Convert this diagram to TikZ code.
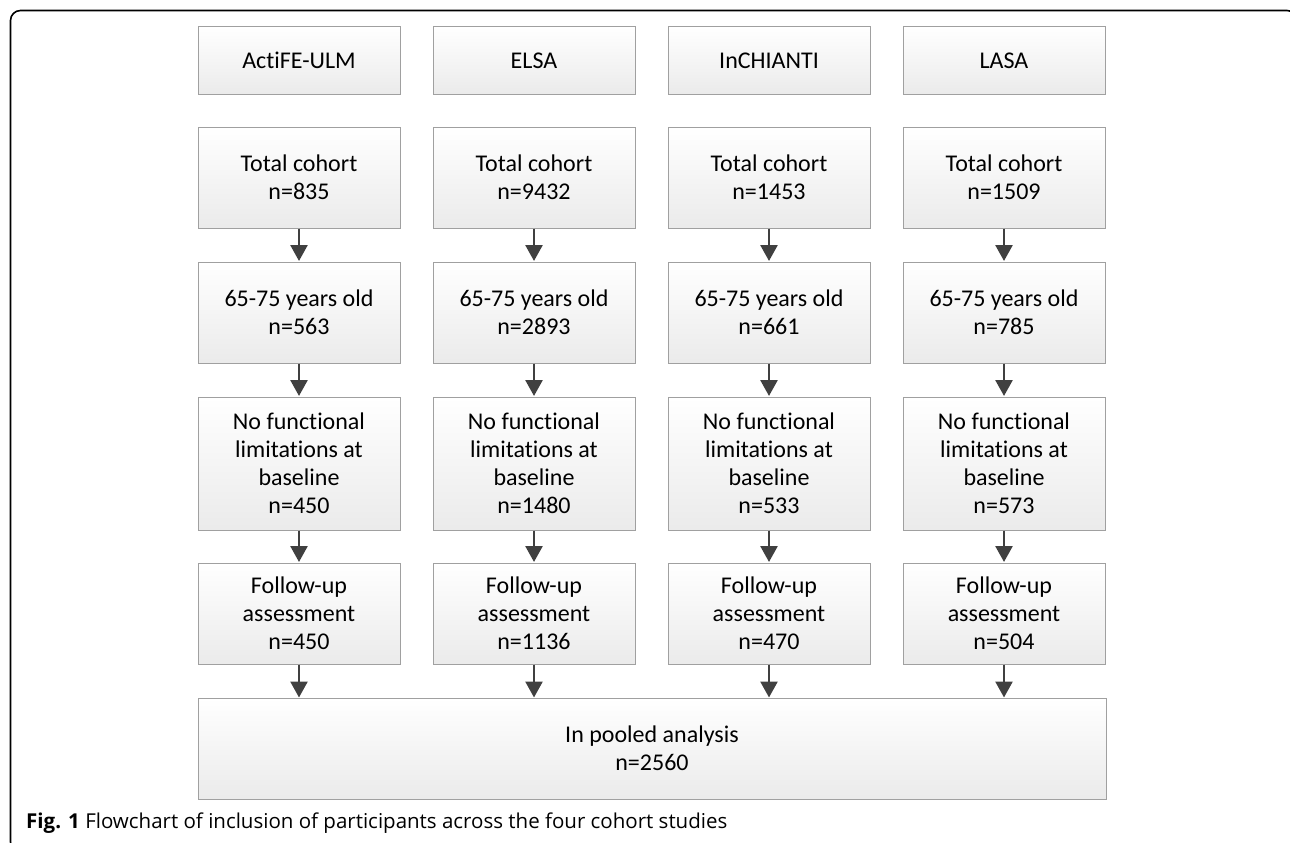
\documentclass[tikz,border=0pt]{standalone}
\usepackage{fontspec}
\setmainfont{Carlito}[Ligatures={NoCommon}]
\newfontfamily\capfont{Open Sans}
\usetikzlibrary{arrows.meta}
\definecolor{arrowgray}{HTML}{404040}
\definecolor{boxline}{HTML}{A0A0A0}
\tikzset{
  stepbox/.style={draw=boxline, line width=1pt, top color=white, bottom color=black!8,
    minimum width=202pt, align=center, font=\fontsize{24}{28}\selectfont, inner sep=0pt},
  flowarrow/.style={draw=arrowgray, line width=2.6pt, -{Triangle[length=16pt,width=17pt]}, shorten >=0.5pt},
}
\begin{document}
\begin{tikzpicture}[x=1pt,y=-1pt]
\useasboundingbox (0,0) rectangle (1290,843);
\begin{scope}
\clip (0,0) rectangle (1290,843);
\draw[line width=1.6pt, rounded corners=10pt] (1297,30) -- (1297,10.5) -- (10.5,10.5) -- (10.5,852) -- (30,852);
\end{scope}
\foreach \c/\x/\name/\a/\b/\d/\e in {
  1/299/ActiFE-ULM/835/563/450/450,
  2/534/ELSA/9432/2893/1480/1136,
  3/769/InCHIANTI/1453/661/533/470,
  4/1004/LASA/1509/785/573/504}{
  \node[stepbox, minimum height=67pt] (h\c) at (\x,60.5) {\name};
  \node[stepbox, minimum height=101pt] (t\c) at (\x,177.5) {Total cohort\\n=\a};
  \node[stepbox, minimum height=101pt] (y\c) at (\x,312.5) {65-75 years old\\n=\b};
  \node[stepbox, minimum height=133pt] (f\c) at (\x,463.5) {No functional\\limitations at\\baseline\\n=\d};
  \node[stepbox, minimum height=101pt] (u\c) at (\x,613.5) {Follow-up\\assessment\\n=\e};
  \coordinate (p\c) at (\x,698);
}
\node[stepbox, minimum width=908pt, minimum height=101pt] (pool) at (652,748.5) {In pooled analysis\\n=2560};
\foreach \c in {1,2,3,4}{
  \draw[flowarrow] (t\c.south) -- (y\c.north);
  \draw[flowarrow] (y\c.south) -- (f\c.north);
  \draw[flowarrow] (f\c.south) -- (u\c.north);
  \draw[flowarrow] (u\c.south) -- (p\c);
}
\node[anchor=base west, inner sep=0pt, font=\capfont\fontsize{20.5}{24}\selectfont] (cap) at (26,828) {\textbf{Fig. 1} Flowchart of inclusion of participants across the four cohort studies};
\end{tikzpicture}
\end{document}
